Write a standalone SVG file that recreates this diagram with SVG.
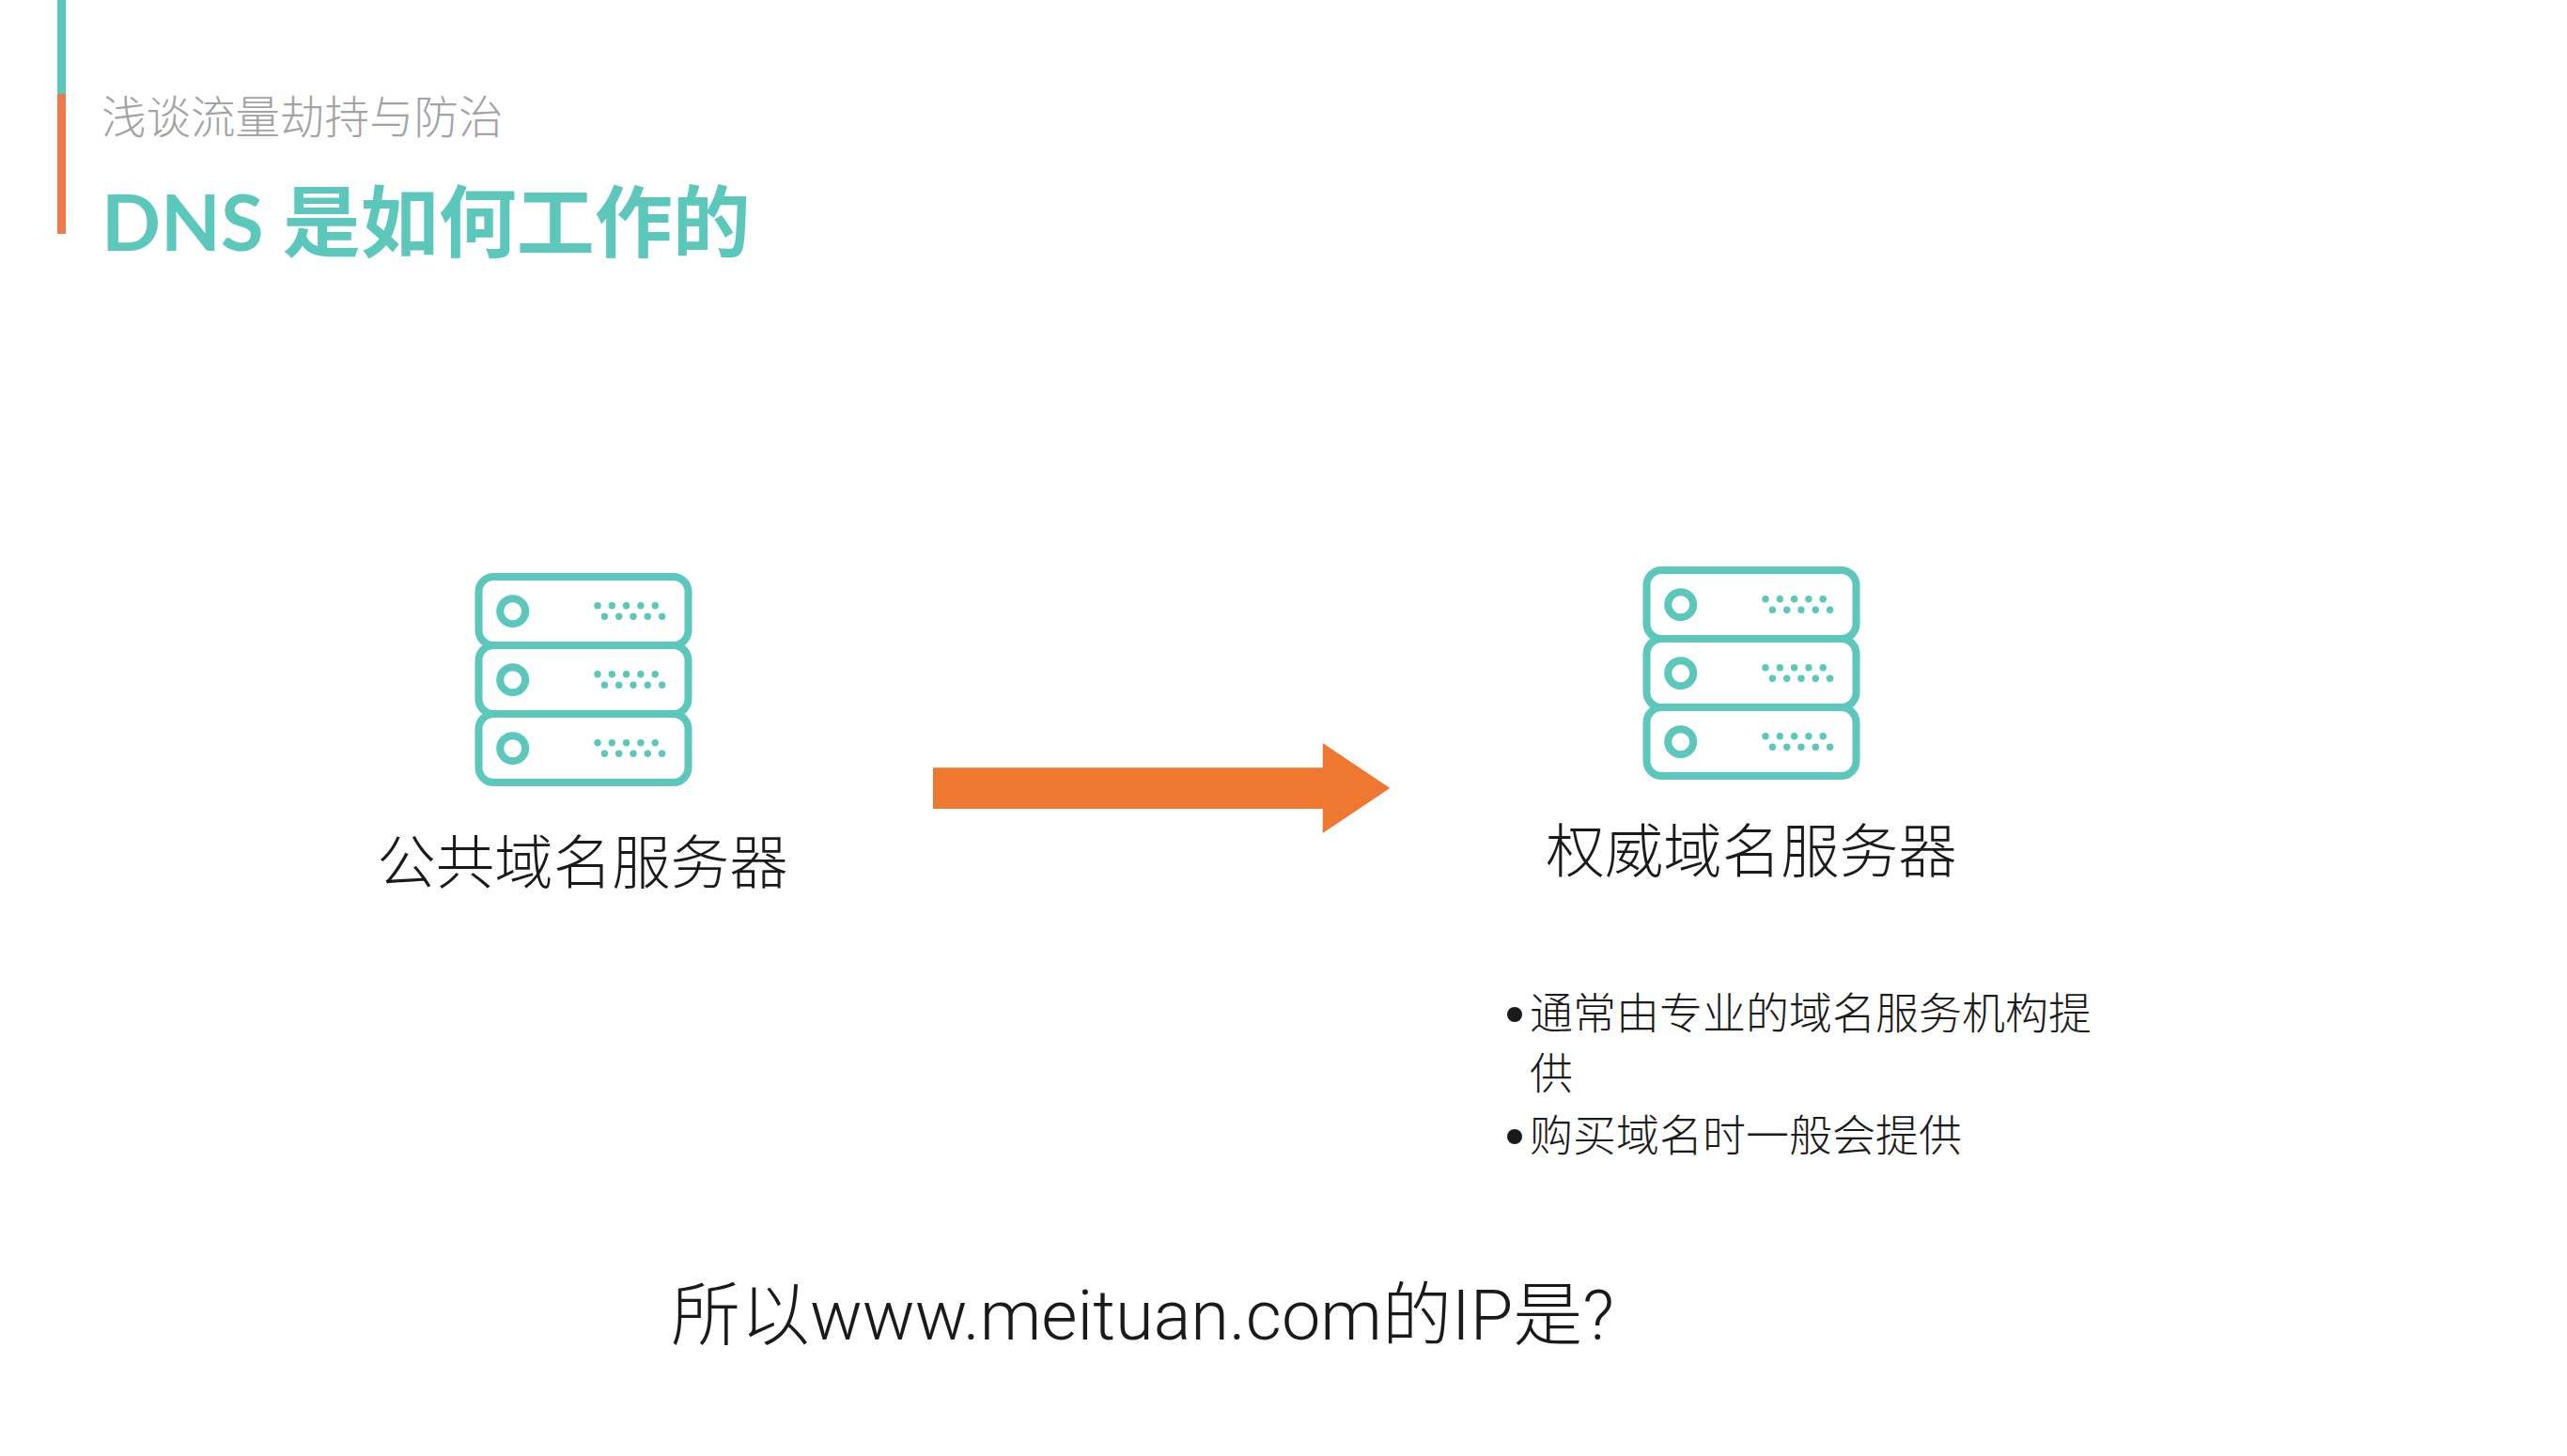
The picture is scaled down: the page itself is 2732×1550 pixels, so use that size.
<svg xmlns="http://www.w3.org/2000/svg" width="2732" height="1550" viewBox="0 0 2732 1550">
<style>
text{font-family:"Noto Sans CJK SC",sans-serif;font-weight:300;fill:#1a1a1a}
.lat{font-family:"Roboto","Noto Sans CJK SC",sans-serif}
.sub{font-size:47.5px;fill:#a3a3a3}
.title{font-family:"Lato","Noto Sans CJK SC",sans-serif;font-size:83px;font-weight:700;fill:#5bc8bb}
.label{font-size:62.5px;text-anchor:middle}
.bul{font-size:46px}
.ask{font-size:74px}
.box{fill:#fff;stroke:#5bc8bb;stroke-width:8}
.ring{fill:none;stroke:#5bc8bb;stroke-width:8}
.dot{fill:#5bc8bb}
</style>
<defs>
<g id="dots"><circle cx="636" cy="644.7" r="3.7"/><circle cx="651.3" cy="644.7" r="3.7"/><circle cx="666.6" cy="644.7" r="3.7"/><circle cx="681.9" cy="644.7" r="3.7"/><circle cx="697.2" cy="644.7" r="3.7"/><circle cx="643.4" cy="656.3" r="3.7"/><circle cx="658.7" cy="656.3" r="3.7"/><circle cx="674" cy="656.3" r="3.7"/><circle cx="689.3" cy="656.3" r="3.7"/><circle cx="704.6" cy="656.3" r="3.7"/></g>
<g id="unit"><rect class="box" x="509.5" y="614" width="223" height="73" rx="16"/><circle class="ring" cx="545.7" cy="650.7" r="13.5"/><use href="#dots" class="dot"/></g>
<g id="server"><use href="#unit"/><use href="#unit" y="73"/><use href="#unit" y="146"/></g>
</defs>
<rect width="2732" height="1550" fill="#fff"/>
<g id="accent"><rect x="61" y="0" width="9" height="100" fill="#5bc8bb"/><rect x="61" y="100" width="9" height="149" fill="#f0794a"/></g>
<g id="heading"><text class="sub" x="108" y="142">浅谈流量劫持与防治</text><text class="title" x="108" y="267">DNS 是如何工作的</text></g>
<g id="public-dns"><use href="#server"/><text class="label" x="620" y="941">公共域名服务器</text></g>
<g id="authoritative-dns"><use href="#server" x="1243" y="-7"/><text class="label" x="1864" y="929">权威域名服务器</text></g>
<g id="connectors"><polygon points="993,817.3 1407.7,817.3 1407.7,791 1479.3,839 1407.7,887 1407.7,861 993,861" fill="#ef7830"/></g>
<g id="notes">
<circle cx="1612" cy="1080" r="8" fill="#1a1a1a"/><text class="bul" x="1628" y="1095">通常由专业的域名服务机构提</text>
<text class="bul" x="1628" y="1159">供</text>
<circle cx="1612" cy="1210" r="8" fill="#1a1a1a"/><text class="bul" x="1628" y="1225">购买域名时一般会提供</text>
</g>
<g id="question"><text class="ask lat" x="714" y="1426">所以www.meituan.com的IP是?</text></g>
</svg>
